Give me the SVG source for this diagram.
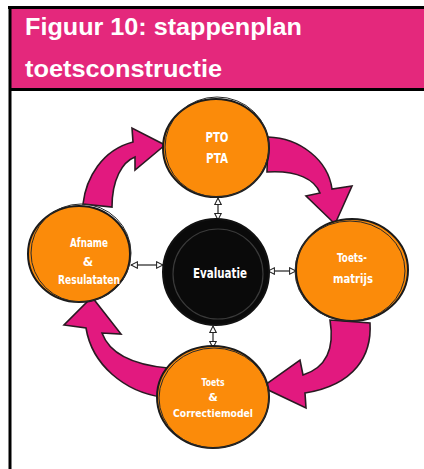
<svg xmlns="http://www.w3.org/2000/svg" width="424" height="469" viewBox="0 0 424 469">
<defs>
<style>
.hdr{font-family:"Liberation Sans","Open Sans",sans-serif;font-weight:bold;fill:#fff;font-size:24px}
.circ{fill:#FB8B0A;stroke:#1a1a1a;stroke-width:2}
.sk{fill:none;stroke:#2a2a2a;stroke-width:1}
.lbl{font-family:"DejaVu Sans",sans-serif;font-weight:bold;fill:#fff;text-anchor:middle}
.arrow{fill:#E2197F;stroke:#2a1a22;stroke-width:1.6;stroke-linejoin:miter}
.conn{stroke:#222;stroke-width:1.2;fill:none;marker-start:url(#tri);marker-end:url(#tri)}
</style>
<marker id="tri" viewBox="0 0 10 10" refX="9" refY="5" markerWidth="8" markerHeight="8" markerUnits="userSpaceOnUse" orient="auto-start-reverse">
<path d="M1,1 L9,5 L1,9 Z" fill="#fff" stroke="#222" stroke-width="1.3"/>
</marker>
</defs>
<rect x="0" y="0" width="424" height="469" fill="#fff"/>
<g id="header">
<rect x="10" y="8" width="414" height="81" fill="#E4287C"/>
<line x1="8" y1="7.5" x2="424" y2="7.5" stroke="#000" stroke-width="3"/>
<line x1="10" y1="6" x2="10" y2="469" stroke="#000" stroke-width="3"/>
<line x1="10" y1="89.5" x2="424" y2="89.5" stroke="#000" stroke-width="3"/>
<text class="hdr" x="25" y="35" textLength="277" lengthAdjust="spacingAndGlyphs">Figuur 10: stappenplan</text>
<text class="hdr" x="25" y="77" textLength="197" lengthAdjust="spacingAndGlyphs">toetsconstructie</text>
</g>
<g id="cycle-arrows">
<path class="arrow" d="M83,204 C86,178 102,150 133,142 L132,128 L165,145 L135,170 L135,157 C122,162 112,180 112,207 Z"/>
<path class="arrow" d="M268,137 C300,138 328,160 332,189 L352,186 L335,224 L306,196 L320,193 C315,180 298,170 267,172 Z"/>
<path class="arrow" d="M370,323 C372,355 355,385 305,393 L306,408 L262,387 L300,360 L303,375 C325,368 335,350 330,320 Z"/>
<path class="arrow" d="M162,397 C125,392 92,365 86,328 L64,325 L92,297 L121,334 L102,333 C110,355 135,365 168,368 Z"/>
</g>
<g id="connectors">
<line class="conn" x1="218" y1="198" x2="218" y2="220"/>
<line class="conn" x1="131" y1="265" x2="163" y2="265"/>
<line class="conn" x1="268" y1="271" x2="296" y2="271"/>
<line class="conn" x1="213" y1="326" x2="213" y2="348"/>
</g>
<g id="node-pto">
<ellipse class="circ" cx="216" cy="148" rx="53" ry="49"/>
<ellipse class="sk" cx="217" cy="147" rx="52" ry="50"/>
<text class="lbl" x="217" y="142" font-size="14" textLength="23" lengthAdjust="spacingAndGlyphs">PTO</text>
<text class="lbl" x="217" y="163" font-size="14" textLength="22" lengthAdjust="spacingAndGlyphs">PTA</text>
</g>
<g id="node-afname">
<ellipse class="circ" cx="79" cy="254" rx="51" ry="48"/>
<ellipse class="sk" cx="81" cy="253" rx="50" ry="49"/>
<text class="lbl" x="89" y="247" font-size="12" textLength="38" lengthAdjust="spacingAndGlyphs">Afname</text>
<text class="lbl" x="88" y="266" font-size="12">&amp;</text>
<text class="lbl" x="89" y="284" font-size="12" textLength="62" lengthAdjust="spacingAndGlyphs">Resulataten</text>
</g>
<g id="node-evaluatie">
<circle cx="216" cy="272" r="53" fill="#0a0a0a" stroke="#111" stroke-width="2"/>
<circle cx="218" cy="274" r="45" fill="none" stroke="#3a3a3a" stroke-width="1.2"/>
<text class="lbl" x="220" y="278" font-size="14" textLength="54" lengthAdjust="spacingAndGlyphs">Evaluatie</text>
</g>
<g id="node-toetsmatrijs">
<ellipse class="circ" cx="352" cy="270" rx="56" ry="51"/>
<ellipse class="sk" cx="350" cy="271" rx="55" ry="50"/>
<text class="lbl" x="352" y="262" font-size="13" textLength="30" lengthAdjust="spacingAndGlyphs">Toets-</text>
<text class="lbl" x="353" y="283" font-size="13" textLength="40" lengthAdjust="spacingAndGlyphs">matrijs</text>
</g>
<g id="node-toets">
<ellipse class="circ" cx="213" cy="397" rx="56" ry="51"/>
<ellipse class="sk" cx="214" cy="398" rx="55" ry="50"/>
<text class="lbl" x="213" y="386" font-size="11" textLength="23" lengthAdjust="spacingAndGlyphs">Toets</text>
<text class="lbl" x="213" y="401" font-size="11">&amp;</text>
<text class="lbl" x="213" y="417" font-size="11" textLength="80" lengthAdjust="spacingAndGlyphs">Correctiemodel</text>
</g>
</svg>
